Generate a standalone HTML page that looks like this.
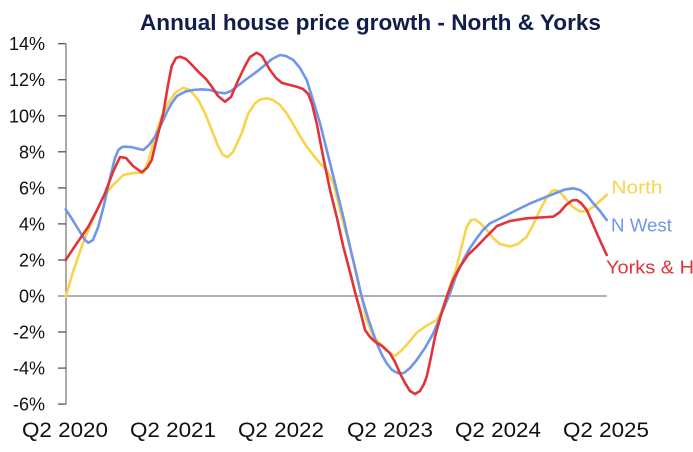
<!DOCTYPE html>
<html>
<head>
<meta charset="utf-8">
<style>
  html, body { margin: 0; padding: 0; background: #ffffff; }
  body { width: 693px; height: 452px; overflow: hidden; }
  svg { display: block; }
  text { font-family: "Liberation Sans", "DejaVu Sans", sans-serif; }
</style>
</head>
<body>
<svg width="693" height="452" viewBox="0 0 693 452" xmlns="http://www.w3.org/2000/svg">
  <rect x="0" y="0" width="693" height="452" fill="#ffffff"/>

  <!-- Title -->
  <text x="140" y="30" font-size="22" font-weight="bold" fill="#0f1e4a" textLength="461" lengthAdjust="spacingAndGlyphs">Annual house price growth - North &amp; Yorks</text>

  <!-- Y axis -->
  <line x1="66" y1="43.7" x2="66" y2="404.1" stroke="#7f7f7f" stroke-width="1.3"/>
  <g stroke="#555" stroke-width="1.3">
    <line x1="58" y1="43.7" x2="66" y2="43.7"/>
    <line x1="58" y1="79.7" x2="66" y2="79.7"/>
    <line x1="58" y1="115.8" x2="66" y2="115.8"/>
    <line x1="58" y1="151.8" x2="66" y2="151.8"/>
    <line x1="58" y1="187.9" x2="66" y2="187.9"/>
    <line x1="58" y1="223.9" x2="66" y2="223.9"/>
    <line x1="58" y1="260" x2="66" y2="260"/>
    <line x1="58" y1="332" x2="66" y2="332"/>
    <line x1="58" y1="368.1" x2="66" y2="368.1"/>
    <line x1="58" y1="404.1" x2="66" y2="404.1"/>
  </g>
  <!-- zero line -->
  <line x1="58" y1="296" x2="606.7" y2="296" stroke="#7f7f7f" stroke-width="1.3"/>

  <!-- Y labels -->
  <g font-size="18" fill="#111" text-anchor="end">
    <text x="45" y="50.2">14%</text>
    <text x="45" y="86.2">12%</text>
    <text x="45" y="122.3">10%</text>
    <text x="45" y="158.3">8%</text>
    <text x="45" y="194.4">6%</text>
    <text x="45" y="230.4">4%</text>
    <text x="45" y="266.5">2%</text>
    <text x="45" y="302.5">0%</text>
    <text x="45" y="338.5">-2%</text>
    <text x="45" y="374.6">-4%</text>
    <text x="45" y="410.6">-6%</text>
  </g>

  <!-- X labels -->
  <g font-size="21" fill="#111">
    <text x="22" y="437" textLength="86" lengthAdjust="spacingAndGlyphs">Q2 2020</text>
    <text x="130" y="437" textLength="86" lengthAdjust="spacingAndGlyphs">Q2 2021</text>
    <text x="238" y="437" textLength="86" lengthAdjust="spacingAndGlyphs">Q2 2022</text>
    <text x="347" y="437" textLength="86" lengthAdjust="spacingAndGlyphs">Q2 2023</text>
    <text x="455" y="437" textLength="86" lengthAdjust="spacingAndGlyphs">Q2 2024</text>
    <text x="563" y="437" textLength="86" lengthAdjust="spacingAndGlyphs">Q2 2025</text>
  </g>

  <!-- North (yellow) -->
  <polyline fill="none" stroke="#f8d44c" stroke-width="2.6" stroke-linejoin="round" stroke-linecap="round"
    points="65.7,296.7 73,272 81.7,246.7 90,226 101.7,200 112,186 123.3,175 133,173 143.3,172.7 148,162 155,136.7 161,118 168.3,103.3 175,93 183.3,87.7 190,90 198.3,100 205,113 211.7,130 218,146 223,155 227.7,157 233,152 241.7,133.3 248,114 255,103.3 260,99.5 266.7,98.3 273,100 280,105 286.7,113.3 293,124 300,136 306.7,146.7 314,156 320,163.3 326.7,170 330,176.7 333.3,183.3 340,210 350,248 360,290 366,318 373.3,336.7 383.3,346.7 390,353 395,356 402,350 410,341 416.7,332.7 426,326 436.7,320 442,310 446.7,296.7 451,283 456.7,266.7 462,245 466.7,226.7 471,220 475,219.5 480,223 486.7,230 493,238 500,244 510,246.5 518,244 526.7,236.7 533,225 540,210 547,197 552,191 555,190 560,192 566.7,200 573,207 580,211.7 587,211 593.3,206.7 600,201 606.7,195"/>

  <!-- N West (blue) -->
  <polyline fill="none" stroke="#6f96e8" stroke-width="2.6" stroke-linejoin="round" stroke-linecap="round"
    points="65.7,209.3 72,219 80,232 85,240 88.3,242.7 93,240 98.3,226.7 104,205 110,178 115,158 118.3,150 122,147 125,146.7 131,147 137,148.5 143.3,150 149,145 155,136.7 161,125 167,112 171.7,103.3 177,96 185,91.7 193,90 201.7,89.3 210,90 218,92.5 225,93.3 231,91 236.7,86.7 246,79.5 256.7,71.7 265,65 272,59 280,55 286,56 293.3,60 300,68 306.7,80 313,100 320,123.3 328,155 336.7,190 343,216 350,246.7 356,272 361.7,296.7 368,318 376.7,343.3 382,355 386.7,363.3 392,370 398.3,373.3 404,373 410,368 416.7,360 425,348 433.3,333.3 441,315 450,293.3 456,276 463.3,260 470,248 476.7,238.3 483,230 490,223.3 500,218.5 516.7,210 530,203.5 546.7,196.7 556,193 565,189.5 573.3,188.3 580,190 586.7,195 593,203 600,211 606.7,220"/>

  <!-- Yorks & H (red) -->
  <polyline fill="none" stroke="#e0333a" stroke-width="2.6" stroke-linejoin="round" stroke-linecap="round"
    points="65.7,260 77,243 88.3,226.7 97,210 105,193.3 113,172 120,157 126,158 133,166 141.7,172.3 147,168 151.7,160 157,138 163.3,113.3 168,85 171.7,66 176,58 180,56.7 186,59 192,65 198.3,71.7 206,79 212,87 218,96 225,101.7 231,97 238.3,80 245,66 250,57 256.7,52.7 262,56 270,70 276,78 281.7,82.7 288,84.5 296.7,86.7 303,89 308.3,94 312,104 316.7,123.3 323,156 330,190 337,218 343.3,246.7 350,272 355,292 360,310 365,330 370,337 375,341.7 382,346 390,353.3 395,362 400,373.3 405,383 410,391 415,394 420,391 424,384 426.7,376.7 431,357 435,336.7 441,315 446.7,296.7 453,280 460,266.7 468,255 476.7,246.7 485,238 497,226 510,221 526.7,218.3 540,217.5 553.3,216.7 560,212 566,205 572,200.5 576.7,200 581,203 586.7,210 592,222 598,236 606.7,255"/>

  <!-- Series labels -->
  <text x="611.5" y="193.3" font-size="18" fill="#f8d44c" textLength="51" lengthAdjust="spacingAndGlyphs">North</text>
  <text x="611" y="231.7" font-size="18" fill="#6f96e8" textLength="61" lengthAdjust="spacingAndGlyphs">N West</text>
  <text x="606" y="273.3" font-size="18" fill="#e0333a" textLength="88" lengthAdjust="spacingAndGlyphs">Yorks &amp; H</text>
</svg>
</body>
</html>
